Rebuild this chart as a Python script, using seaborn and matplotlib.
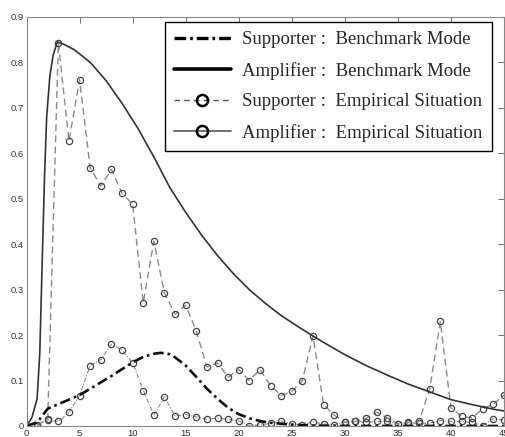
import numpy as np
import pandas as pd
import matplotlib
matplotlib.use("Agg")
import matplotlib.pyplot as plt
from matplotlib.lines import Line2D
import seaborn as sns

# --- data ---
period = list(range(1, 46))

supporter_emp = [0.003, 0.015, 0.843, 0.627, 0.762, 0.568, 0.528, 0.565, 0.512, 0.488,
                 0.271, 0.406, 0.293, 0.246, 0.266, 0.209, 0.130, 0.139, 0.107, 0.124,
                 0.100, 0.124, 0.089, 0.067, 0.076, 0.100, 0.198, 0.047, 0.024, 0.008,
                 0.010, 0.017, 0.030, 0.018, 0.005, 0.008, 0.010, 0.082, 0.230, 0.040,
                 0.021, 0.018, 0.038, 0.048, 0.068]

amplifier_emp = [0.000, 0.013, 0.010, 0.030, 0.067, 0.133, 0.146, 0.180, 0.167, 0.139,
                 0.078, 0.024, 0.064, 0.022, 0.025, 0.020, 0.015, 0.017, 0.015, 0.011,
                 0.001, 0.002, 0.006, 0.011, 0.004, 0.003, 0.009, 0.004, 0.003, 0.008,
                 0.010, 0.008, 0.010, 0.010, 0.005, 0.006, 0.006, 0.006, 0.012, 0.010,
                 0.010, 0.008, 0.001, 0.016, 0.013]

sup_bench_x = [0, 1, 2, 3, 4, 5, 6, 7, 8, 9, 10, 11, 12, 12.7, 13.5, 14, 15, 16, 17, 18,
               19, 20, 21, 22, 23, 24, 25, 27, 30, 35, 40, 45]
sup_bench_y = [0, 0.008, 0.038, 0.048, 0.058, 0.068, 0.082, 0.096, 0.110, 0.125, 0.140,
               0.152, 0.159, 0.161, 0.158, 0.151, 0.133, 0.108, 0.082, 0.060, 0.040,
               0.026, 0.017, 0.011, 0.007, 0.005, 0.003, 0.001, 0, 0, 0, 0]

amp_bench_x = [0, 0.5, 1, 1.25, 1.5, 1.7, 1.9, 2.2, 2.5, 2.9, 3.5, 4.5, 6, 7.5, 9, 10.5,
               12, 13.5, 15, 16.5, 18, 19.5, 21, 22.5, 24, 25.5, 27, 28.5, 30, 32, 34,
               36, 38, 40, 42, 44, 45]
amp_bench_y = [0, 0.018, 0.06, 0.16, 0.38, 0.55, 0.68, 0.77, 0.815, 0.845, 0.84, 0.828,
               0.80, 0.76, 0.71, 0.655, 0.592, 0.525, 0.47, 0.42, 0.375, 0.335, 0.30,
               0.27, 0.243, 0.22, 0.198, 0.177, 0.157, 0.133, 0.112, 0.092, 0.075,
               0.058, 0.047, 0.037, 0.033]

labels = ["Supporter :  Benchmark Mode",
          "Amplifier :  Benchmark Mode",
          "Supporter :  Empirical Situation",
          "Amplifier :  Empirical Situation"]

sns.set_style("white")
plt.rcParams['font.family'] = ['Liberation Sans', 'DejaVu Sans']

fig = plt.figure(figsize=(5.05, 4.37), dpi=100)
ax = fig.add_axes([0.0525, 0.0252, 0.9455, 0.936])

# empirical series
sns.lineplot(x=period, y=amplifier_emp, ax=ax, color='#8a8a8a', linewidth=0.8,
             linestyle=(0, (4, 1.5, 1, 1.5)), marker='o', markersize=4.5,
             markerfacecolor='none', markeredgecolor='#444444', markeredgewidth=0.9)
sns.lineplot(x=period, y=supporter_emp, ax=ax, color='#8a8a8a', linewidth=1.0,
             linestyle=(0, (5, 3)), marker='o', markersize=4.5,
             markerfacecolor='none', markeredgecolor='#444444', markeredgewidth=0.9)

# benchmark curves
sns.lineplot(x=sup_bench_x, y=sup_bench_y, ax=ax, color='#111111', linewidth=1.9,
             linestyle=(0, (4, 1.5, 1, 1.5)))
sns.lineplot(x=amp_bench_x, y=amp_bench_y, ax=ax, color='#333333', linewidth=1.2)

ax.set_xlim(0, 45)
ax.set_ylim(0, 0.9)
ax.set_xticks(range(0, 46, 5))
ax.set_yticks(np.arange(0, 0.91, 0.1))
ax.set_yticklabels(['0'] + ['%.1f' % v for v in np.arange(0.1, 0.91, 0.1)])
ax.tick_params(direction='in', length=4, width=0.6, colors='#555555', labelsize=6.8,
               labelcolor='#333333', top=True, right=True, pad=2)
for s in ax.spines.values():
    s.set_color('#888888')
    s.set_linewidth(0.8)

handles = [
    Line2D([], [], color='black', linewidth=2.4, linestyle=(0, (3.5, 1.2, 0.8, 1.2))),
    Line2D([], [], color='black', linewidth=2.6),
    Line2D([], [], color='#555555', linewidth=1.0, linestyle=(0, (4, 3)), marker='o',
           markersize=8, markerfacecolor='none', markeredgecolor='black', markeredgewidth=1.8),
    Line2D([], [], color='#555555', linewidth=1.2, marker='o',
           markersize=8, markerfacecolor='none', markeredgecolor='black', markeredgewidth=1.8),
]
leg = ax.legend(handles, labels, loc='upper left', bbox_to_anchor=(0.29, 0.988),
                borderaxespad=0, frameon=True, fancybox=False, framealpha=1,
                handlelength=3.0, handletextpad=0.6, labelspacing=0.72, borderpad=0.5,
                prop={'family': 'Liberation Serif', 'size': 13.5})
leg.get_frame().set_edgecolor('black')
leg.get_frame().set_linewidth(1.0)

fig.savefig('out.png', dpi=100)
